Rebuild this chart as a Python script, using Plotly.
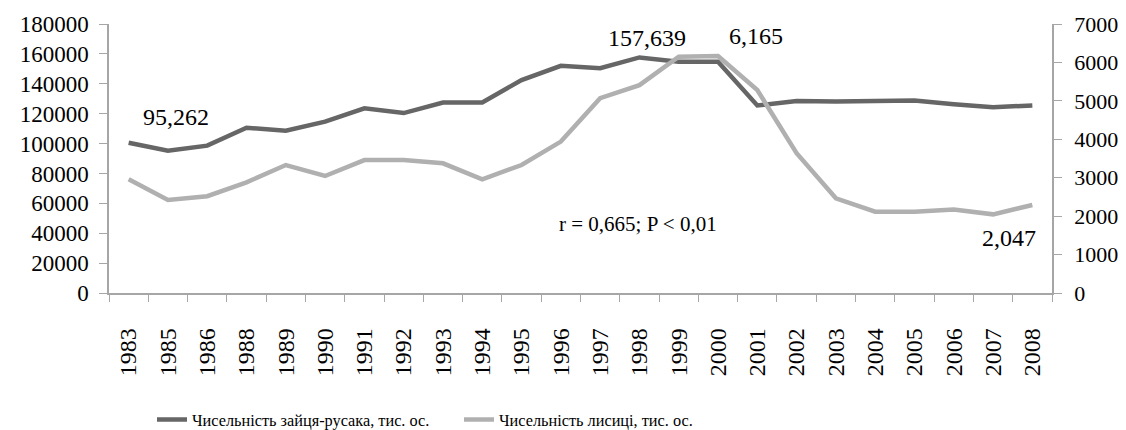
import plotly.graph_objects as go

years = ["1983", "1985", "1986", "1988", "1989", "1990", "1991", "1992", "1993", "1994",
         "1995", "1996", "1997", "1998", "1999", "2000", "2001", "2002", "2003", "2004",
         "2005", "2006", "2007", "2008"]
hare = [100600, 95262, 98600, 110600, 108600, 114700, 123600, 120400, 127500, 127500,
        142500, 152000, 150400, 157639, 154800, 154800, 125500, 128500, 128200, 128800,
        128800, 126300, 124300, 125500]
fox = [2960, 2420, 2520, 2880, 3330, 3045, 3460, 3460, 3375, 2960,
       3330, 3940, 5070, 5410, 6150, 6165, 5280, 3640, 2465, 2115,
       2115, 2175, 2047, 2290]

hare_name = "Чисельність зайця-русака, тис. ос."
fox_name = "Чисельність лисиці, тис. ос."
stat_text = "r = 0,665; P < 0,01"

FONT = "Liberation Serif"
AXC = "#a6a6a6"
DOM = [0.3502, 1.0]

fig = go.Figure()
fig.add_trace(go.Scatter(x=years, y=hare, name=hare_name, mode="lines",
                         line=dict(color="#666666", width=4.5)))
fig.add_trace(go.Scatter(x=years, y=fox, name=fox_name, mode="lines", yaxis="y2",
                         line=dict(color="#b0b0b0", width=4.5)))

def lab(v):
    return f"{v:,}"

i = years.index("1985")
fig.add_annotation(x=i, y=hare[i], text=lab(hare[i]), showarrow=False,
                   xshift=8, yshift=34, font=dict(size=24))
i = years.index("1998")
fig.add_annotation(x=i, y=hare[i], text=lab(hare[i]), showarrow=False,
                   xshift=8, yshift=19, font=dict(size=24))
i = years.index("2000")
fig.add_annotation(x=i, y=fox[i], text=lab(fox[i]), showarrow=False, yref="y2",
                   xshift=38, yshift=20, font=dict(size=24))
i = years.index("2007")
fig.add_annotation(x=i, y=fox[i], text=lab(fox[i]), showarrow=False, yref="y2",
                   xshift=16, yshift=-24, font=dict(size=24))
fig.add_annotation(x=0.561, y=0.2044, xref="x domain", yref="y domain", text=stat_text,
                   showarrow=False, font=dict(size=21))

fig.update_layout(
    width=1126, height=430,
    margin=dict(l=101, r=82, t=16, b=0),
    paper_bgcolor="white", plot_bgcolor="white",
    font=dict(family=FONT, color="black", size=20),
    showlegend=True,
    legend=dict(orientation="h", x=0.0456, xanchor="left", y=0.0435, yanchor="middle",
                font=dict(size=16.3), entrywidth=262, bgcolor="rgba(0,0,0,0)"),
    xaxis=dict(type="category", showgrid=False, showline=True, linecolor=AXC, linewidth=1.5,
               ticks="outside", tickson="boundaries", ticklen=7, tickcolor=AXC,
               tickangle=-90, tickfont=dict(size=24), range=[-0.5, len(years) - 0.5],
               ticklabelstandoff=24, automargin=False, anchor="y"),
    yaxis=dict(range=[0, 180000], dtick=20000, tickformat="d", showgrid=False, showline=True,
               linecolor=AXC, linewidth=1.5, ticks="outside", ticklen=8, tickcolor=AXC,
               tickfont=dict(size=23), zeroline=False, automargin=False, domain=DOM,
               ticklabelstandoff=6),
    yaxis2=dict(range=[0, 7000], dtick=1000, tickformat="d", overlaying="y", side="right",
                showgrid=False, showline=True, linecolor=AXC, linewidth=1.5, ticks="outside",
                ticklen=8, tickcolor=AXC, tickfont=dict(size=22), zeroline=False,
                automargin=False, domain=DOM, ticklabelstandoff=8, anchor="x"),
)

fig.write_html("out.html")
